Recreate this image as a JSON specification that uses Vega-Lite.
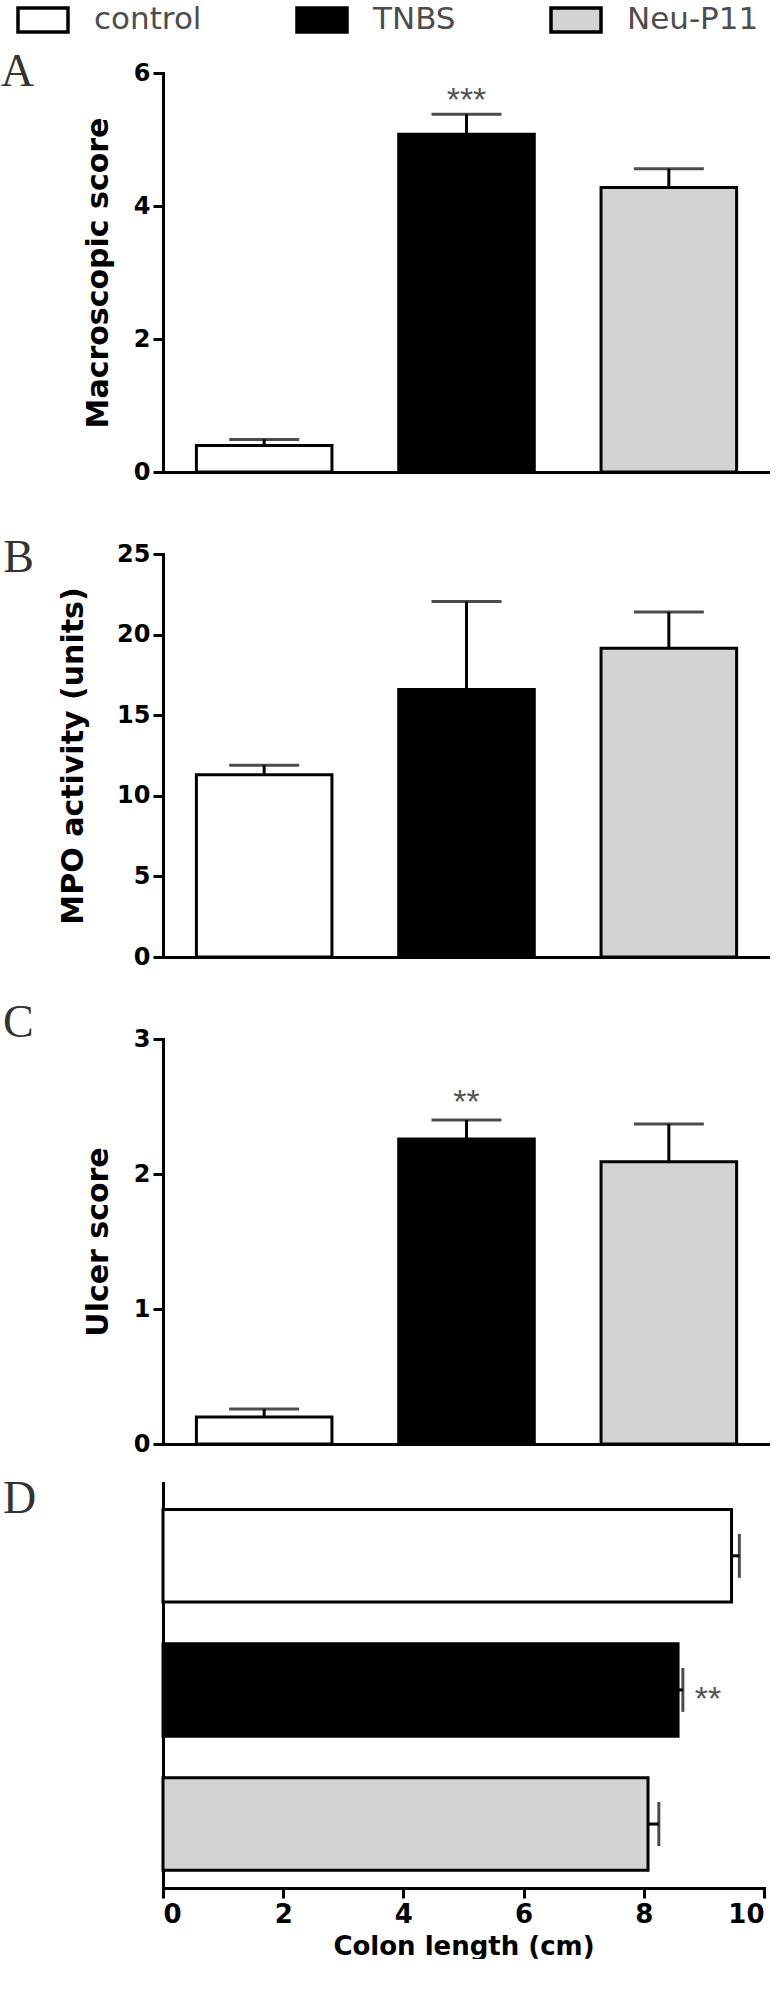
{
  "$schema": "https://vega.github.io/schema/vega-lite/v6.json",
  "padding": {"left": 0, "top": -7, "right": 0, "bottom": 0},
  "datasets": {
    "d": [
      {"group": "control", "macro": 0.40, "macro_hi": 0.49, "mpo": 11.3, "mpo_hi": 11.9, "ulcer": 0.20, "ulcer_hi": 0.26, "colon": 9.46, "colon_hi": 9.59, "sigA": "", "sigC": "", "sigD": ""},
      {"group": "TNBS", "macro": 5.08, "macro_hi": 5.38, "mpo": 16.6, "mpo_hi": 22.05, "ulcer": 2.26, "ulcer_hi": 2.40, "colon": 8.57, "colon_hi": 8.65, "sigA": "***", "sigC": "**", "sigD": "**"},
      {"group": "Neu-P11", "macro": 4.28, "macro_hi": 4.56, "mpo": 19.15, "mpo_hi": 21.4, "ulcer": 2.09, "ulcer_hi": 2.37, "colon": 8.07, "colon_hi": 8.25, "sigA": "", "sigC": "", "sigD": ""}
    ]
  },
  "data": {"name": "d"},
  "spacing": 20,
  "vconcat": [
    {
      "spacing": 82,
      "bounds": "flush",
      "vconcat": [
        {
          "width": 607, "height": 399,
          "title": {"text": "A", "orient": "left", "anchor": "end", "angle": 0, "align": "right", "baseline": "top", "offset": 16, "dy": -11, "font": "Liberation Serif", "fontSize": 46, "fontWeight": "normal", "color": "#333"},
          "layer": [
            {"mark": {"type": "bar", "stroke": "black", "strokeWidth": 3},
             "encoding": {
               "x": {"field": "group", "type": "nominal", "sort": ["control", "TNBS", "Neu-P11"], "scale": {"paddingInner": 0.33, "paddingOuter": 0.165}, "axis": {"labels": false, "ticks": false, "title": null}},
               "y": {"field": "macro", "type": "quantitative", "title": "Macroscopic score", "scale": {"domain": [0, 6], "nice": false}, "axis": {"values": [0, 2, 4, 6], "format": "d"}},
               "fill": {"field": "group", "type": "nominal", "scale": {"domain": ["control", "TNBS", "Neu-P11"], "range": ["white", "black", "#d3d3d3"]}, "legend": {"title": null}}
             }},
            {"mark": {"type": "rule", "strokeWidth": 3, "color": "black"},
             "encoding": {
               "x": {"field": "group", "type": "nominal", "sort": ["control", "TNBS", "Neu-P11"]},
               "y": {"field": "macro", "type": "quantitative", "title": "Macroscopic score"},
               "y2": {"field": "macro_hi"}
             }},
            {"mark": {"type": "tick", "size": 70, "thickness": 3, "color": "black"},
             "encoding": {
               "x": {"field": "group", "type": "nominal", "sort": ["control", "TNBS", "Neu-P11"]},
               "y": {"field": "macro_hi", "type": "quantitative", "title": "Macroscopic score"}
             }},
            {"mark": {"type": "text", "font": "Liberation Sans", "fontSize": 34, "color": "#555", "baseline": "alphabetic", "dy": -3},
             "encoding": {
               "x": {"field": "group", "type": "nominal", "sort": ["control", "TNBS", "Neu-P11"]},
               "y": {"field": "macro_hi", "type": "quantitative", "title": "Macroscopic score"},
               "text": {"field": "sigA"}
             }}
          ]
        },
        {
          "width": 607, "height": 403,
          "title": {"text": "B", "orient": "left", "anchor": "end", "angle": 0, "align": "right", "baseline": "top", "offset": -6, "dy": -6, "font": "Liberation Serif", "fontSize": 46, "fontWeight": "normal", "color": "#333"},
          "layer": [
            {"mark": {"type": "bar", "stroke": "black", "strokeWidth": 3},
             "encoding": {
               "x": {"field": "group", "type": "nominal", "sort": ["control", "TNBS", "Neu-P11"], "scale": {"paddingInner": 0.33, "paddingOuter": 0.165}, "axis": {"labels": false, "ticks": false, "title": null}},
               "y": {"field": "mpo", "type": "quantitative", "title": "MPO activity (units)", "scale": {"domain": [0, 25], "nice": false}, "axis": {"values": [0, 5, 10, 15, 20, 25], "format": "d", "titlePadding": 28}},
               "fill": {"field": "group", "type": "nominal", "scale": {"domain": ["control", "TNBS", "Neu-P11"], "range": ["white", "black", "#d3d3d3"]}, "legend": {"title": null}}
             }},
            {"mark": {"type": "rule", "strokeWidth": 3, "color": "black"},
             "encoding": {
               "x": {"field": "group", "type": "nominal", "sort": ["control", "TNBS", "Neu-P11"]},
               "y": {"field": "mpo", "type": "quantitative", "title": "MPO activity (units)"},
               "y2": {"field": "mpo_hi"}
             }},
            {"mark": {"type": "tick", "size": 70, "thickness": 3, "color": "black"},
             "encoding": {
               "x": {"field": "group", "type": "nominal", "sort": ["control", "TNBS", "Neu-P11"]},
               "y": {"field": "mpo_hi", "type": "quantitative", "title": "MPO activity (units)"}
             }}
          ]
        },
        {
          "width": 607, "height": 405,
          "title": {"text": "C", "orient": "left", "anchor": "end", "angle": 0, "align": "right", "baseline": "top", "offset": 19, "dy": -26, "font": "Liberation Serif", "fontSize": 46, "fontWeight": "normal", "color": "#333"},
          "layer": [
            {"mark": {"type": "bar", "stroke": "black", "strokeWidth": 3},
             "encoding": {
               "x": {"field": "group", "type": "nominal", "sort": ["control", "TNBS", "Neu-P11"], "scale": {"paddingInner": 0.33, "paddingOuter": 0.165}, "axis": {"labels": false, "ticks": false, "title": null}},
               "y": {"field": "ulcer", "type": "quantitative", "title": "Ulcer score", "scale": {"domain": [0, 3], "nice": false}, "axis": {"values": [0, 1, 2, 3], "format": "d"}},
               "fill": {"field": "group", "type": "nominal", "scale": {"domain": ["control", "TNBS", "Neu-P11"], "range": ["white", "black", "#d3d3d3"]}, "legend": {"title": null}}
             }},
            {"mark": {"type": "rule", "strokeWidth": 3, "color": "black"},
             "encoding": {
               "x": {"field": "group", "type": "nominal", "sort": ["control", "TNBS", "Neu-P11"]},
               "y": {"field": "ulcer", "type": "quantitative", "title": "Ulcer score"},
               "y2": {"field": "ulcer_hi"}
             }},
            {"mark": {"type": "tick", "size": 70, "thickness": 3, "color": "black"},
             "encoding": {
               "x": {"field": "group", "type": "nominal", "sort": ["control", "TNBS", "Neu-P11"]},
               "y": {"field": "ulcer_hi", "type": "quantitative", "title": "Ulcer score"}
             }},
            {"mark": {"type": "text", "font": "Liberation Sans", "fontSize": 34, "color": "#555", "baseline": "alphabetic", "dy": -7},
             "encoding": {
               "x": {"field": "group", "type": "nominal", "sort": ["control", "TNBS", "Neu-P11"]},
               "y": {"field": "ulcer_hi", "type": "quantitative", "title": "Ulcer score"},
               "text": {"field": "sigC"}
             }}
          ]
        }
      ]
    },
    {
      "width": 601, "height": 405,
      "title": {"text": "D", "orient": "left", "anchor": "end", "angle": 0, "align": "right", "baseline": "top", "offset": 92, "dy": -6, "font": "Liberation Serif", "fontSize": 46, "fontWeight": "normal", "color": "#333"},
      "layer": [
        {"mark": {"type": "bar", "stroke": "black", "strokeWidth": 3},
         "encoding": {
           "y": {"field": "group", "type": "nominal", "sort": ["control", "TNBS", "Neu-P11"], "scale": {"paddingInner": 0.31, "paddingOuter": 0.165, "align": 0.6}, "axis": {"labels": false, "ticks": false, "title": null}},
           "x": {"field": "colon", "type": "quantitative", "title": "Colon length (cm)", "scale": {"domain": [0, 10], "nice": false}, "axis": {"values": [0, 2, 4, 6, 8, 10], "format": "d", "labelFontSize": 26, "titleFontSize": 26, "labelPadding": 3, "titlePadding": 6}},
           "fill": {"field": "group", "type": "nominal", "scale": {"domain": ["control", "TNBS", "Neu-P11"], "range": ["white", "black", "#d3d3d3"]}, "legend": {"title": null}}
         }},
        {"mark": {"type": "rule", "strokeWidth": 3, "color": "black"},
         "encoding": {
           "y": {"field": "group", "type": "nominal", "sort": ["control", "TNBS", "Neu-P11"]},
           "x": {"field": "colon", "type": "quantitative", "title": "Colon length (cm)"},
           "x2": {"field": "colon_hi"}
         }},
        {"mark": {"type": "tick", "size": 44, "thickness": 3, "color": "black"},
         "encoding": {
           "y": {"field": "group", "type": "nominal", "sort": ["control", "TNBS", "Neu-P11"]},
           "x": {"field": "colon_hi", "type": "quantitative", "title": "Colon length (cm)"}
         }},
        {"mark": {"type": "text", "font": "Liberation Sans", "fontSize": 34, "color": "#555", "baseline": "middle", "align": "left", "dx": 12, "dy": 10},
         "encoding": {
           "y": {"field": "group", "type": "nominal", "sort": ["control", "TNBS", "Neu-P11"]},
           "x": {"field": "colon_hi", "type": "quantitative", "title": "Colon length (cm)"},
           "text": {"field": "sigD"}
         }}
      ]
    }
  ],
  "config": {
    "view": {"stroke": null},
    "font": "DejaVu Sans",
    "axis": {"domainColor": "black", "domainWidth": 3, "domainCap": "square", "tickColor": "black", "tickWidth": 3, "tickSize": 10, "labelPadding": 3, "labelFont": "DejaVu Sans", "labelFontWeight": "bold", "labelFontSize": 24, "labelColor": "black", "titleFont": "DejaVu Sans", "titleFontWeight": "bold", "titleFontSize": 30, "titleColor": "black", "titlePadding": 20, "grid": false},
    "legend": {"orient": "none", "legendX": -147, "legendY": -80, "direction": "horizontal", "symbolType": "M-1,-0.48H1V0.48H-1Z", "symbolSize": 2500, "symbolStrokeColor": "black", "symbolStrokeWidth": 3.5, "labelFont": "DejaVu Sans", "labelFontSize": 31, "labelColor": "#4d4d4d", "labelOffset": 24, "columnPadding": 88, "padding": 0}
  }
}
